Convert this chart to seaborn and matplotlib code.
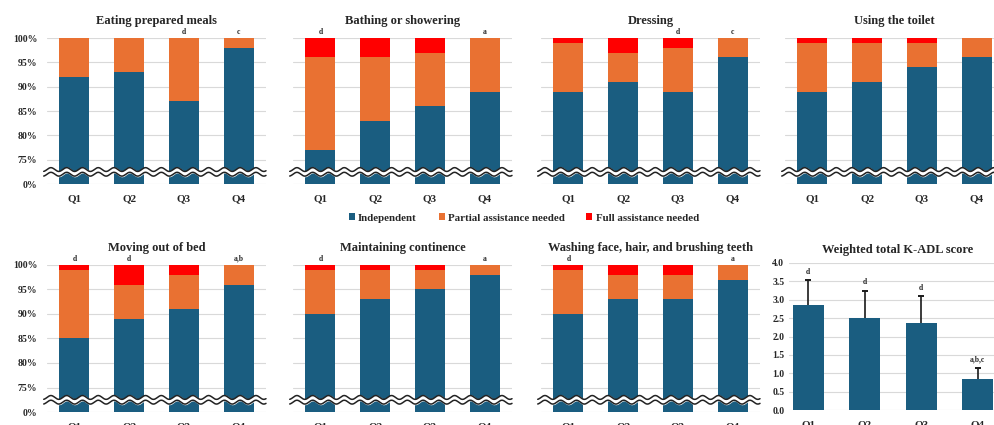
import numpy as np
import pandas as pd
import matplotlib
matplotlib.use('Agg')
import matplotlib.pyplot as plt
from matplotlib.patches import Patch
import seaborn as sns

# ---- data ----
quartiles = ['Q1', 'Q2', 'Q3', 'Q4']
panel_titles = ['Eating prepared meals', 'Bathing or showering', 'Dressing', 'Using the toilet',
                'Moving out of bed', 'Maintaining continence', 'Washing face, hair, and brushing teeth']
independent = [[92, 93, 87, 98], [77, 83, 86, 89], [89, 91, 89, 96], [89, 91, 94, 96],
               [85, 89, 91, 96], [90, 93, 95, 98], [90, 93, 93, 97]]
partial = [[8, 7, 13, 2], [19, 13, 11, 11], [10, 6, 9, 4], [10, 8, 5, 4],
           [14, 7, 7, 4], [9, 6, 4, 2], [9, 5, 5, 3]]
full = [[0, 0, 0, 0], [4, 4, 3, 0], [1, 3, 2, 0], [1, 1, 1, 0],
        [1, 4, 2, 0], [1, 1, 1, 0], [1, 2, 2, 0]]
sig_letters = [['', '', 'd', 'c'], ['d', '', '', 'a'], ['', '', 'd', 'c'], ['', '', '', ''],
               ['d', 'd', '', 'a,b'], ['d', '', '', 'a'], ['d', '', '', 'a']]
kadl_mean = [2.85, 2.49, 2.38, 0.84]
kadl_sd = [0.69, 0.76, 0.72, 0.31]
kadl_letters = ['d', 'd', 'd', 'a,b,c']
legend_labels = ['Independent', 'Partial assistance needed', 'Full assistance needed']

BLUE = '#1A5D80'
ORANGE = '#E97132'
RED = '#FF0000'
GRID = '#D9D9D9'
FONT = 'Liberation Serif'

sns.set_theme(style='white')
plt.rcParams['font.family'] = [FONT, 'DejaVu Serif']
plt.rcParams['font.weight'] = 'bold'


def fwd(v):
    v = np.asarray(v, dtype=float)
    return np.where(v >= 72.5, v, 70 + v * 2.5 / 72.5)


def inv(p):
    p = np.asarray(p, dtype=float)
    return np.where(p >= 72.5, p, (p - 70) * 72.5 / 2.5)


def draw_break(ax, yc=0.083):
    # wavy axis-break band drawn across the whole panel
    xs = np.linspace(-0.015, 1.0, 500)
    wave = 0.013 * np.sin(2 * np.pi * xs / 0.072)
    lo = yc - 0.016 + wave
    hi = yc + 0.016 + wave
    ax.fill_between(xs, lo, hi, color='white', transform=ax.transAxes, zorder=5, clip_on=False)
    ax.plot(xs, lo, color='#222222', lw=1.1, transform=ax.transAxes, zorder=6, clip_on=False)
    ax.plot(xs, hi, color='#222222', lw=1.1, transform=ax.transAxes, zorder=6, clip_on=False)


def style_axis(ax):
    for s in ax.spines.values():
        s.set_visible(False)
    ax.grid(axis='y', color=GRID, lw=0.8)
    ax.set_axisbelow(True)
    ax.tick_params(axis='both', length=0)
    ax.tick_params(axis='x', pad=7, labelsize=8)
    ax.tick_params(axis='y', pad=7, labelsize=7)
    ax.set_xlabel('')
    ax.set_ylabel('')


fig = plt.figure(figsize=(9.94, 4.25), dpi=100)
W, H = 994.0, 425.0
col_left = [47, 293, 541, 785]
ax_w = 219
rows = [(184, 146), (412, 147)]

for i, title in enumerate(panel_titles):
    r, c = divmod(i, 4)
    bottom_px, h_px = rows[r]
    ax = fig.add_axes([col_left[c] / W, (H - bottom_px) / H, ax_w / W, h_px / H])
    ind = np.array(independent[i])
    part = np.array(partial[i])
    tot = ind + part + np.array(full[i])
    df = pd.DataFrame({'Quartile': quartiles, 'Full': tot, 'Partial': ind + part, 'Independent': ind})
    sns.barplot(data=df, x='Quartile', y='Full', color=RED, width=0.55, saturation=1, linewidth=0, ax=ax)
    sns.barplot(data=df, x='Quartile', y='Partial', color=ORANGE, width=0.55, saturation=1, linewidth=0, ax=ax)
    sns.barplot(data=df, x='Quartile', y='Independent', color=BLUE, width=0.55, saturation=1, linewidth=0, ax=ax)
    ax.set_yscale('function', functions=(fwd, inv))
    ax.set_ylim(0, 100)
    ax.set_xlim(-0.5, 3.5)
    ax.set_yticks([0, 75, 80, 85, 90, 95, 100])
    if c == 0:
        ax.set_yticklabels([f'{t}%' for t in [0, 75, 80, 85, 90, 95, 100]])
    else:
        ax.set_yticklabels([])
    style_axis(ax)
    ax.set_title(title, fontsize=9, fontweight='bold', pad=10)
    for k, lab in enumerate(sig_letters[i]):
        if lab:
            ax.annotate(lab, (k, 100), xytext=(0, 1.5), textcoords='offset points',
                        ha='center', va='bottom', fontsize=5.5, fontweight='bold', annotation_clip=False)
    draw_break(ax)

# weighted total K-ADL score
ax = fig.add_axes([788.5 / W, 15 / H, 217.5 / W, 147 / H])
sns.barplot(x=quartiles, y=kadl_mean, color=BLUE, width=0.55, saturation=1, linewidth=0, ax=ax)
tops = np.array(kadl_mean) + np.array(kadl_sd)
ax.vlines(range(4), kadl_mean, tops, color='#1a1a1a', lw=1.2)
ax.plot(range(4), tops, ls='none', marker='_', ms=5, mew=1.4, color='#1a1a1a')
ax.set_ylim(0, 4)
ax.set_xlim(-0.35, 3.5)
ax.set_yticks(np.arange(0, 4.01, 0.5))
ax.set_yticklabels([f'{t:.1f}' for t in np.arange(0, 4.01, 0.5)])
style_axis(ax)
ax.tick_params(axis='y', pad=3)
ax.set_title('Weighted total K-ADL score', fontsize=9, fontweight='bold', pad=7)
for k, lab in enumerate(kadl_letters):
    ax.annotate(lab, (k, tops[k]), xytext=(0, 3), textcoords='offset points',
                ha='center', va='bottom', fontsize=5.5, fontweight='bold', annotation_clip=False)

handles = [Patch(facecolor=col, edgecolor='none') for col in (BLUE, ORANGE, RED)]
fig.legend(handles, legend_labels, loc='center', bbox_to_anchor=(0.527, 0.487), ncol=3, frameon=False,
           handlelength=0.55, handleheight=0.55, handletextpad=0.3, columnspacing=2.0,
           prop={'family': FONT, 'weight': 'bold', 'size': 7.8})

fig.savefig('out.png', dpi=100)
